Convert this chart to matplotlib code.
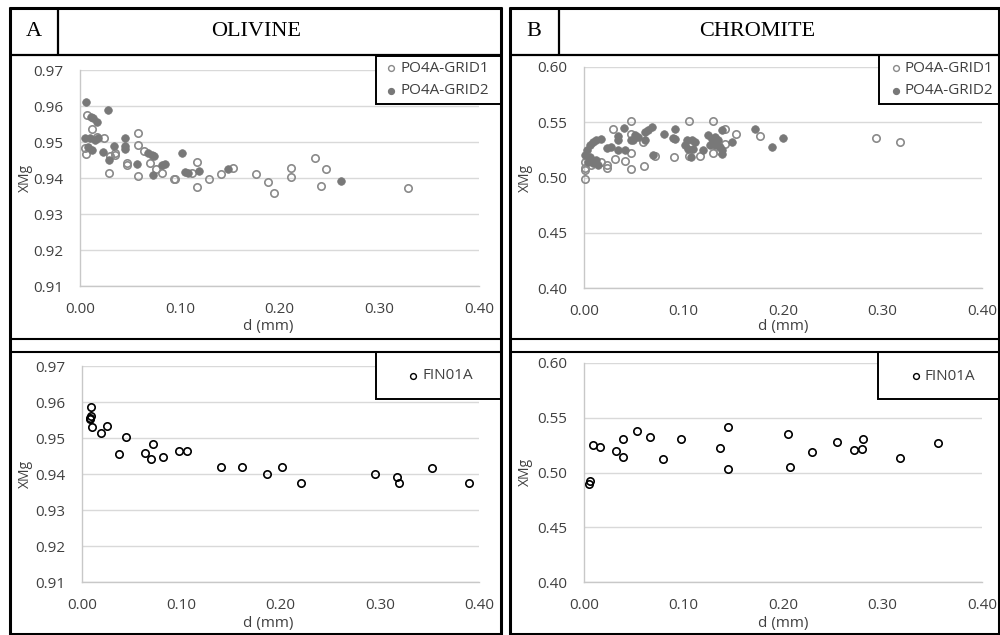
import matplotlib
matplotlib.use("Agg")
import matplotlib.pyplot as plt
from matplotlib.lines import Line2D
from matplotlib.patches import Rectangle

# ---------------- data ----------------
x_ticks = [0.00, 0.10, 0.20, 0.30, 0.40]
ol_y_ticks = [0.91, 0.92, 0.93, 0.94, 0.95, 0.96, 0.97]
cr_y_ticks = [0.40, 0.45, 0.50, 0.55, 0.60]

ol_grid1_d = [0.0074, 0.012, 0.0054, 0.0056, 0.0174, 0.0237,
              0.029, 0.030, 0.035, 0.035, 0.047, 0.047,
              0.058, 0.058, 0.058, 0.064, 0.070, 0.0766,
              0.082, 0.094, 0.095, 0.112, 0.117, 0.117,
              0.129, 0.141, 0.153, 0.176, 0.188, 0.194,
              0.212, 0.212, 0.2355, 0.2415, 0.2465, 0.329]
ol_grid1_v = [0.9575, 0.9535, 0.9484, 0.9468, 0.9515, 0.9511,
              0.9413, 0.9460, 0.9470, 0.9464, 0.9443, 0.9437,
              0.9524, 0.9493, 0.9406, 0.9476, 0.9441, 0.9426,
              0.9415, 0.9398, 0.9396, 0.9413, 0.9444, 0.9374,
              0.9398, 0.9412, 0.9429, 0.9410, 0.9390, 0.9357,
              0.9428, 0.9403, 0.9455, 0.9379, 0.9424, 0.9372]

ol_grid2_d = [0.0060, 0.0284, 0.0110, 0.0127, 0.0174,
              0.0050, 0.0100, 0.0150, 0.0177, 0.0083, 0.0120,
              0.0234, 0.0290, 0.0344, 0.0450, 0.0450, 0.0450,
              0.0568, 0.0680, 0.0720, 0.0740, 0.0735, 0.0820, 0.0850,
              0.1020, 0.1050, 0.1080, 0.1196, 0.1487, 0.2613]
ol_grid2_v = [0.9610, 0.9589, 0.9570, 0.9566, 0.9555,
              0.9510, 0.9512, 0.9505, 0.9512, 0.9487, 0.9478,
              0.9473, 0.9450, 0.9490, 0.9510, 0.9490, 0.9480,
              0.9438, 0.9469, 0.9464, 0.9461, 0.9408, 0.9436, 0.9439,
              0.9470, 0.9416, 0.9413, 0.9420, 0.9425, 0.9392]

ol_fin_d = [0.0091, 0.0090, 0.0084, 0.0084, 0.0101, 0.0191, 0.0252, 0.0372,
            0.0446, 0.0631, 0.0691, 0.0715, 0.0815, 0.0977, 0.106, 0.140,
            0.1614, 0.1866, 0.2013, 0.2205, 0.2953, 0.3171, 0.3198, 0.3523, 0.3903]
ol_fin_v = [0.9585, 0.9562, 0.9556, 0.9552, 0.9530, 0.9513, 0.9534, 0.9455,
            0.9503, 0.9458, 0.9441, 0.9484, 0.9447, 0.9463, 0.9465, 0.9420,
            0.9419, 0.9399, 0.9420, 0.9375, 0.9401, 0.9393, 0.9376, 0.9417, 0.9375]

cr_grid1_d = [0.0013, 0.0013, 0.0013, 0.0013, 0.0074, 0.0167, 0.0234, 0.0234,
              0.0291, 0.031, 0.041, 0.0469, 0.047, 0.047, 0.0475,
              0.0592, 0.0606, 0.0713, 0.0904, 0.1058, 0.106, 0.1165,
              0.1292, 0.1292, 0.137, 0.1416, 0.1416, 0.1527, 0.1767, 0.2939, 0.3173]
cr_grid1_v = [0.4988, 0.5066, 0.5087, 0.5142, 0.5117, 0.5136, 0.5090, 0.5117,
              0.5443, 0.5170, 0.5145, 0.5512, 0.5390, 0.5226, 0.5078,
              0.5322, 0.5105, 0.5196, 0.5190, 0.5509, 0.5196, 0.5196,
              0.5509, 0.5226, 0.5240, 0.5437, 0.5307, 0.5392, 0.5373, 0.5358, 0.5320]

cr_grid2_d = [0.0013, 0.0033, 0.0057, 0.0090, 0.0124, 0.0174,
              0.0040, 0.0090, 0.0124, 0.0140, 0.0057,
              0.0228, 0.0274, 0.0345, 0.0345, 0.0345,
              0.0398, 0.0410, 0.0470, 0.0490, 0.0512, 0.0540,
              0.0613, 0.0613, 0.0646, 0.0686, 0.0696,
              0.0803, 0.0897, 0.0914, 0.0914,
              0.1014, 0.1031, 0.1048, 0.1081, 0.1098, 0.1115, 0.1080, 0.1200,
              0.1249, 0.1265, 0.1282, 0.1315, 0.1315, 0.1349, 0.1366, 0.1382, 0.1382, 0.1382,
              0.1483, 0.1717, 0.1885, 0.2002]
cr_grid2_v = [0.5202, 0.5247, 0.5292, 0.5322, 0.5337, 0.5352,
              0.5142, 0.5127, 0.5157, 0.5111, 0.5187,
              0.5268, 0.5277, 0.5373, 0.5337, 0.5247,
              0.5449, 0.5247, 0.5340, 0.5337, 0.5382, 0.5367,
              0.5343, 0.5413, 0.5428, 0.5458, 0.5208,
              0.5398, 0.5358, 0.5437, 0.5352,
              0.5292, 0.5337, 0.5262, 0.5337, 0.5262, 0.5322, 0.5187, 0.5247,
              0.5383, 0.5292, 0.5352, 0.5367, 0.5292, 0.5337, 0.5277, 0.5247, 0.5428, 0.5217,
              0.5322, 0.5443, 0.5277, 0.5361]

cr_fin_d = [0.0060, 0.0053, 0.0094, 0.0160, 0.0321, 0.0392, 0.0392, 0.0536,
            0.0666, 0.0790, 0.0974, 0.1366, 0.1446, 0.1443, 0.2052, 0.2075,
            0.2293, 0.2547, 0.2715, 0.2798, 0.2808, 0.3173, 0.3562]
cr_fin_v = [0.4924, 0.4894, 0.5255, 0.5237, 0.5195, 0.5310, 0.5146, 0.5377,
            0.5328, 0.5125, 0.5310, 0.5225, 0.5416, 0.5033, 0.5356, 0.5049,
            0.5185, 0.5277, 0.5204, 0.5216, 0.5310, 0.5128, 0.5271]

# ---------------- style ----------------
W, H = 1000, 635
SANS = ["Open Sans", "DejaVu Sans"]
SERIF = ["Liberation Serif", "DejaVu Serif"]
C_OPEN = "#8a8a8a"
C_FILL = "#787878"
C_TXT = "#404040"
FS = 11

fig = plt.figure(figsize=(W / 100, H / 100), dpi=100)
fig.patch.set_facecolor("white")


def fx(x):
    return x / W


def fy(y):
    return 1 - y / H


def add_ax(l, t, r, b):
    return fig.add_axes([fx(l), fy(b), (r - l) / W, (b - t) / H])


def hline(x1, x2, y, lw=1.5):
    fig.add_artist(Line2D([fx(x1), fx(x2)], [fy(y), fy(y)], transform=fig.transFigure,
                          color="black", lw=lw, zorder=10, solid_capstyle="butt"))


def vline(x, y1, y2, lw=1.5):
    fig.add_artist(Line2D([fx(x), fx(x)], [fy(y1), fy(y2)], transform=fig.transFigure,
                          color="black", lw=lw, zorder=10, solid_capstyle="butt"))


def style_ax(ax, ylim, yticks):
    ax.set_xlim(0, 0.40)
    ax.set_ylim(*ylim)
    ax.set_xticks(x_ticks)
    ax.set_yticks(yticks)
    ax.set_xticklabels([f"{t:.2f}" for t in x_ticks])
    ax.set_yticklabels([f"{t:.2f}" for t in yticks])
    for lab in ax.get_xticklabels() + ax.get_yticklabels():
        lab.set_family(SANS)
        lab.set_fontsize(FS)
        lab.set_color(C_TXT)
    ax.tick_params(axis="both", length=0)
    ax.tick_params(axis="y", pad=12)
    ax.tick_params(axis="x", pad=11.5)
    ax.grid(axis="y", color="#d9d9d9", lw=1.0)
    ax.set_axisbelow(True)
    for s in ("top", "right"):
        ax.spines[s].set_visible(False)
    for s in ("left", "bottom"):
        ax.spines[s].set_color("#c8c8c8")
        ax.spines[s].set_linewidth(1.0)
    ax.patch.set_alpha(0)


def open_pts(ax, d, v, color, ms=5.3):
    ax.plot(d, v, ls="none", marker="o", ms=ms, mfc="none", mec=color, mew=1.2,
            clip_on=False, zorder=3)


def fill_pts(ax, d, v, color, ms=5.5):
    ax.plot(d, v, ls="none", marker="o", ms=ms, mfc=color, mec=color, mew=0.5,
            clip_on=False, zorder=3)


# ---------------- axes ----------------
axA1 = add_ax(80, 70, 479, 286)
style_ax(axA1, (0.91, 0.97), ol_y_ticks)
open_pts(axA1, ol_grid1_d, ol_grid1_v, C_OPEN)
fill_pts(axA1, ol_grid2_d, ol_grid2_v, C_FILL)

axB1 = add_ax(584, 67, 982, 288)
style_ax(axB1, (0.40, 0.60), cr_y_ticks)
open_pts(axB1, cr_grid1_d, cr_grid1_v, C_OPEN)
fill_pts(axB1, cr_grid2_d, cr_grid2_v, C_FILL)

axA2 = add_ax(82, 366, 479, 582)
style_ax(axA2, (0.91, 0.97), ol_y_ticks)
open_pts(axA2, ol_fin_d, ol_fin_v, "black")

axB2 = add_ax(584, 363, 982, 582)
style_ax(axB2, (0.40, 0.60), cr_y_ticks)
open_pts(axB2, cr_fin_d, cr_fin_v, "black")

# axis titles (figure text)
for xc, yc in [(268, 327), (268, 623), (783, 327), (783, 623)]:
    fig.text(fx(xc), fy(yc), "d (mm)", ha="center", va="center", family=SANS,
             fontsize=FS, color=C_TXT)
for xc, yc in [(25, 178), (25, 474), (525, 178), (525, 472)]:
    fig.text(fx(xc), fy(yc), "XMg", ha="center", va="center", rotation=90,
             family=SANS, fontsize=10, color=C_TXT)

# ---------------- frames ----------------
for (L, R) in [(9.5, 501.5), (510.5, 998.5)]:
    lw_o = 2.2
    hline(L - 1, R + 1, 7.5, lw_o)
    hline(L - 1, R + 1, 633.5, lw_o)
    vline(L, 6.5, 634.5, lw_o)
    vline(R, 6.5, 634.5, lw_o)
    hline(L, R, 54.5, 1.6)
    vline(L + 48, 7.5, 54.5, 1.6)
    hline(L, R, 339, 1.5)
    hline(L, R, 352, 1.5)

fig.text(fx(34), fy(32), "A", ha="center", va="center", family=SERIF, fontsize=16)
fig.text(fx(256), fy(32), "OLIVINE", ha="center", va="center", family=SERIF, fontsize=16)
fig.text(fx(534), fy(32), "B", ha="center", va="center", family=SERIF, fontsize=16)
fig.text(fx(757), fy(32), "CHROMITE", ha="center", va="center", family=SERIF, fontsize=16)


# ---------------- legends ----------------
def legend_box(l, t, r, b):
    fig.add_artist(Rectangle((fx(l), fy(b)), (r - l) / W, (b - t) / H,
                             transform=fig.transFigure, facecolor="white",
                             edgecolor="black", lw=1.4, zorder=8))


def legend_item(xm, y, xt, label, mfc, mec):
    fig.add_artist(Line2D([fx(xm)], [fy(y)], transform=fig.transFigure, ls="none",
                          marker="o", ms=4.2, mfc=mfc, mec=mec, mew=1.0, zorder=9))
    fig.text(fx(xt), fy(y), label, ha="left", va="center", family=SANS,
             fontsize=FS, color=C_TXT, zorder=9)


legend_box(375.5, 55.5, 501.5, 103.5)
legend_item(391, 68, 400, "PO4A-GRID1", "none", C_OPEN)
legend_item(391, 91, 400, "PO4A-GRID2", C_FILL, C_FILL)

legend_box(879, 55.5, 998.5, 104)
legend_item(896, 68, 905, "PO4A-GRID1", "none", C_OPEN)
legend_item(896, 91, 905, "PO4A-GRID2", C_FILL, C_FILL)

legend_box(375.5, 352, 501.5, 399)
legend_item(413, 375.5, 422, "FIN01A", "none", "black")

legend_box(878, 352, 998.5, 399)
legend_item(916, 376, 925, "FIN01A", "none", "black")

fig.savefig("out.png", dpi=100, facecolor="white")
